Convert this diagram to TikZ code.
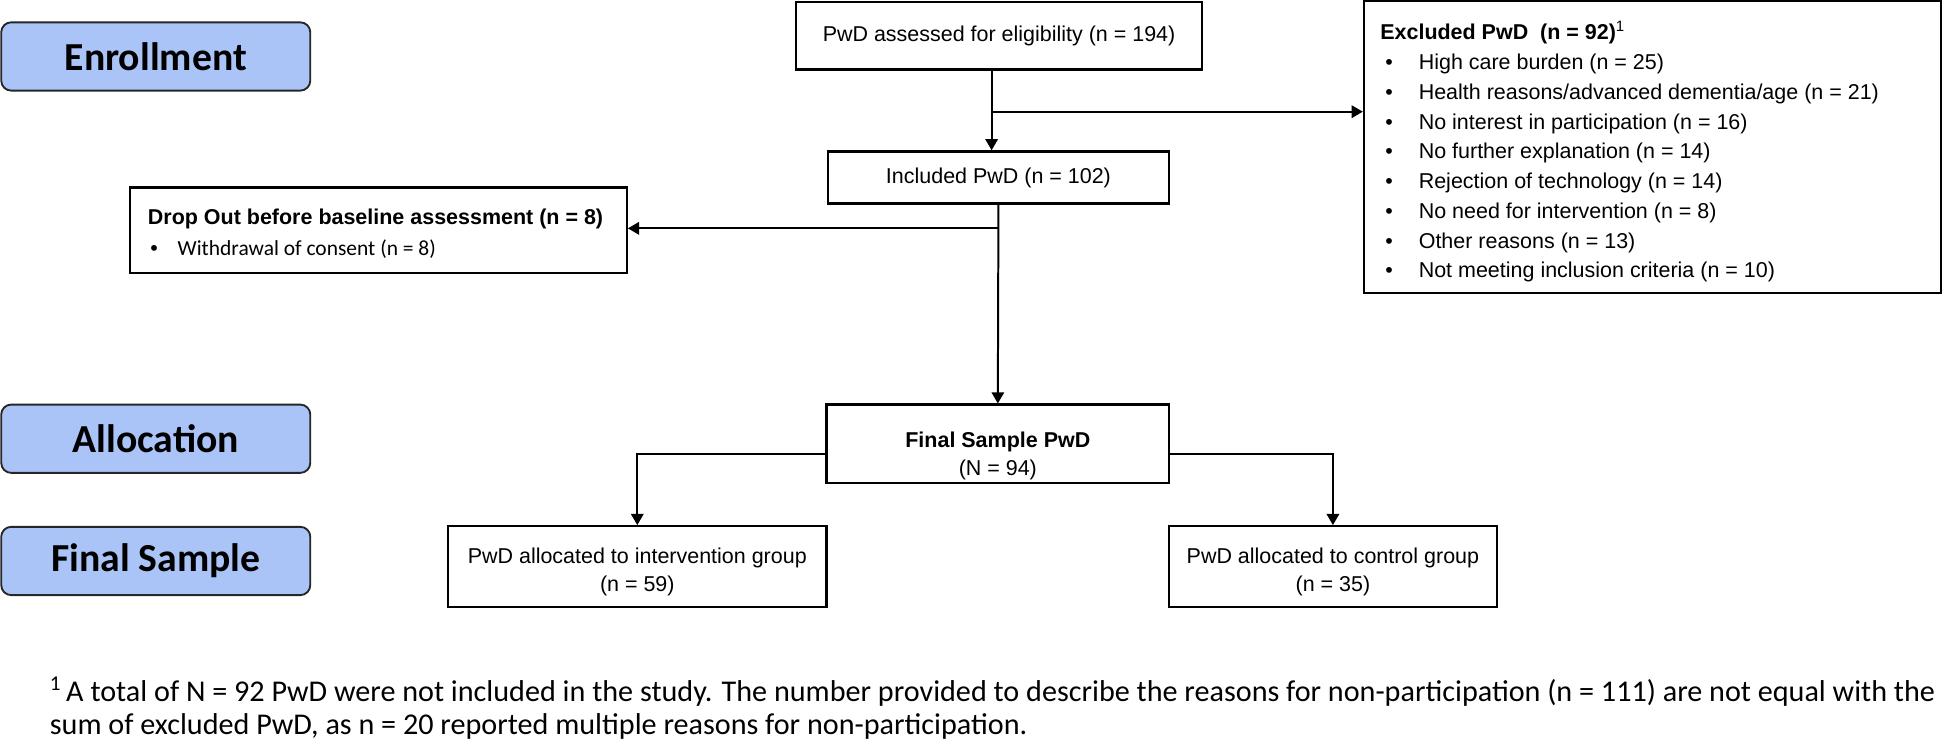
\documentclass[tikz,border=0pt]{standalone}
\usepackage{fontspec}
\setmainfont{Liberation Sans}
\newfontfamily\carlito{Carlito}
\usetikzlibrary{arrows.meta}
\definecolor{labelblue}{RGB}{170,196,248}
\begin{document}
\begin{tikzpicture}[x=1pt,y=-1pt,
  box/.style={draw=black, line width=1.8pt, inner sep=0pt, rectangle, font=\fontsize{17.3}{23}\selectfont},
  stage/.style={draw=black!85, line width=1.5pt, fill=labelblue, rounded corners=8pt,
    minimum width=249pt, minimum height=55pt, inner sep=0pt,
    font=\carlito\bfseries\fontsize{32}{36}\selectfont},
  txt/.style={inner sep=0pt, align=center, font=\fontsize{17.3}{23}\selectfont},
  listtxt/.style={inner sep=0pt, anchor=base west},
  conn/.style={line width=1.6pt},
  arr/.style={conn, -{Triangle[length=9pt,width=10pt]}}
]
\useasboundingbox (0,0) rectangle (1568,596);

% stage labels
\node[stage] (enroll) at (125.5,45.5) {Enrollment};
\node[stage] (alloc) at (125.5,353.5) {Allocation};
\node[stage] (finalst) at (125.5,452) {Final Sample};

% boxes
\node[box, minimum width=327.5pt, minimum height=54.5pt] (assess) at (805,28.75) {PwD assessed for eligibility (n = 194)};
\node[box, minimum width=275pt, minimum height=42pt] (incl) at (804.5,143) {Included PwD (n = 102)};
\node[box, minimum width=400pt, minimum height=69pt] (drop) at (305,185.5) {};
\node[box, minimum width=465pt, minimum height=235pt] (excl) at (1331.5,118.5) {};
\node[box, minimum width=276pt, minimum height=63pt] (final) at (804,357.5) {};
\node[box, minimum width=305pt, minimum height=65pt] (interv) at (513.5,456.5) {};
\node[box, minimum width=264pt, minimum height=65pt] (ctrl) at (1074,456.5) {};

% texts
\node[txt] (final-t) at (804,367.5) {\textbf{Final Sample PwD}\\(N = 94)};
\node[txt] (interv-t) at (513.5,461) {PwD allocated to intervention group\\(n = 59)};
\node[txt] (ctrl-t) at (1074,461) {PwD allocated to control group\\(n = 35)};

\node[listtxt, font=\fontsize{17.3}{25}\selectfont] (drop-t) at (119,181) {%
\begin{tabular}[t]{@{}p{24pt}@{}l@{}}
\multicolumn{2}{@{}l@{}}{\textbf{Drop Out before baseline assessment (n = 8)}}\\
\hspace*{2pt}\textbullet & {\carlito Withdrawal of consent (n = 8)}
\end{tabular}};

\node[listtxt, font=\fontsize{17.3}{24}\selectfont] (excl-t) at (1112,32) {%
\begin{tabular}[t]{@{}p{31pt}@{}l@{}}
\multicolumn{2}{@{}l@{}}{\textbf{Excluded PwD\ \ (n = 92)}\textsuperscript{1}}\\
\hspace*{4pt}\textbullet & High care burden (n = 25)\\
\hspace*{4pt}\textbullet & Health reasons/advanced dementia/age (n = 21)\\
\hspace*{4pt}\textbullet & No interest in participation (n = 16)\\
\hspace*{4pt}\textbullet & No further explanation (n = 14)\\
\hspace*{4pt}\textbullet & Rejection of technology (n = 14)\\
\hspace*{4pt}\textbullet & No need for intervention (n = 8)\\
\hspace*{4pt}\textbullet & Other reasons (n = 13)\\
\hspace*{4pt}\textbullet & Not meeting inclusion criteria (n = 10)
\end{tabular}};

\node[listtxt, font=\carlito\fontsize{24.3}{27}\selectfont] (foot) at (40,565) {%
\begin{tabular}[t]{@{}l@{}}
\textsuperscript{1}\,A total of N = 92 PwD were not included in the study. The number provided to describe the reasons for non-participation (n = 111) are not equal with the\\
sum of excluded PwD, as n = 20 reported multiple reasons for non-participation.
\end{tabular}};

% connectors
\coordinate (j1) at (799,90);
\coordinate (j2) at (804,184);
\draw[arr] (assess.south -| j1) -- (incl.north -| j1);
\draw[arr] (j1) -- (j1 -| excl.west);
\draw[arr] (incl.south) -- (final.north);
\draw[arr] (j2) -- (j2 -| drop.east);
\draw[arr] ([yshift=-8pt]final.west) -| (interv.north);
\draw[arr] ([yshift=-8pt]final.east) -| (ctrl.north);
\end{tikzpicture}
\end{document}
